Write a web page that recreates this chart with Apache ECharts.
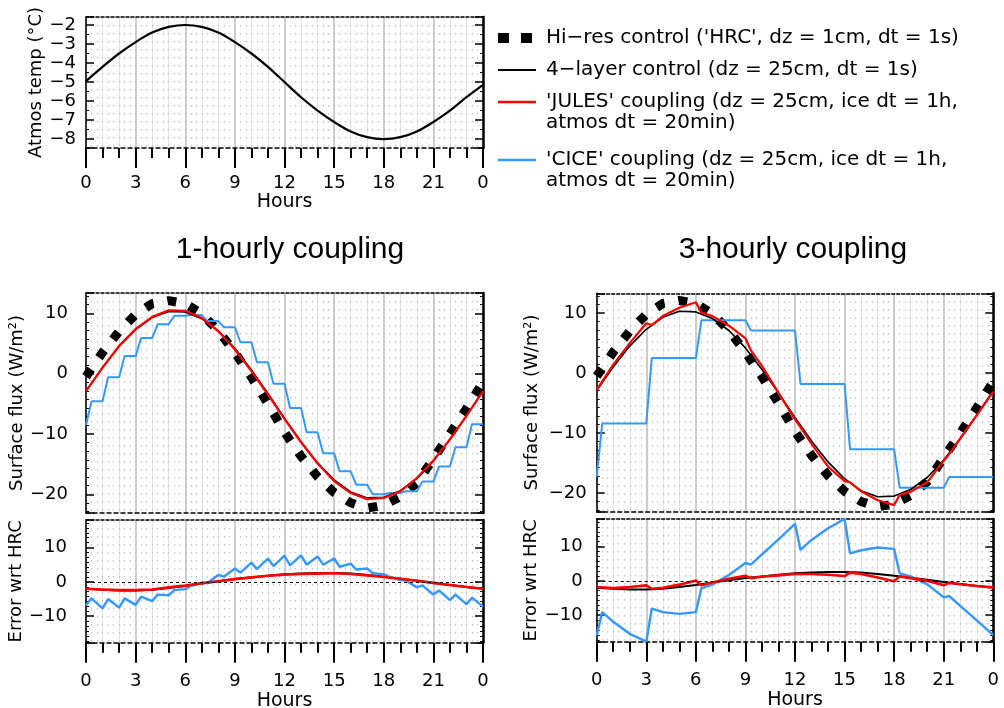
<!DOCTYPE html>
<html><head><meta charset="utf-8">
<script src="https://cdn.jsdelivr.net/npm/echarts@6/dist/echarts.min.js"></script>
<style>html,body{margin:0;padding:0;background:#fff}#c{width:1004px;height:708px}</style>
</head><body><div id="c"></div><script>
// ---------------- data ----------------
const hours = [0,1,2,3,4,5,6,7,8,9,10,11,12,13,14,15,16,17,18,19,20,21,22,23,24];
const atmosTemp = [-4.95,-4.2,-3.5,-2.9,-2.4,-2.1,-2.0,-2.1,-2.4,-2.9,-3.5,-4.2,-5.0,-5.8,-6.5,-7.1,-7.6,-7.9,-8.0,-7.9,-7.6,-7.1,-6.5,-5.8,-5.15];

const hrcFlux = [-0.5,3.5,7.0,9.8,11.6,12.1,11.6,9.9,7.1,3.5,-0.6,-5.0,-9.7,-13.7,-17.1,-19.7,-21.4,-22.3,-21.8,-20.4,-18.1,-14.1,-10.0,-5.8,-1.4];
const ctlFlux = [-2.9,1.0,4.5,7.3,9.3,10.3,10.2,9.1,7.1,4.2,0.6,-3.3,-7.4,-11.3,-14.8,-17.6,-19.6,-20.6,-20.5,-19.4,-17.4,-14.5,-10.9,-7.0,-2.9];
const julesFlux1h = [-2.9,1.0,4.6,7.4,9.4,10.5,10.4,9.2,7.0,4.0,0.4,-3.5,-7.5,-11.4,-14.9,-17.8,-19.8,-20.8,-20.6,-19.5,-17.3,-14.4,-10.9,-7.0,-2.9];
const ciceFlux1hStart = -8.5;
const ciceFlux1h = [-4.6,-0.6,2.9,5.9,8.2,9.6,9.7,8.7,7.7,5.2,1.9,-1.7,-5.7,-9.7,-13.2,-16.2,-18.4,-20.0,-19.8,-19.5,-17.9,-15.4,-12.2,-8.4];

const ctlErr = [-2.0,-2.3,-2.5,-2.5,-2.3,-1.8,-1.2,-0.5,0.2,0.8,1.3,1.8,2.2,2.4,2.6,2.6,2.4,2.0,1.5,0.9,0.3,-0.3,-0.9,-1.5,-2.0];
const julesErr1h = [-2.0,-2.2,-2.4,-2.4,-2.2,-1.6,-1.1,-0.4,0.2,0.8,1.3,1.8,2.1,2.3,2.4,2.5,2.3,1.9,1.4,0.9,0.3,-0.3,-0.9,-1.5,-2.0];
const ciceErr1hAtHour = [-6.8,-7.7,-7.5,-6.7,-5.6,-3.9,-2.1,-0.2,2.0,3.9,5.6,6.8,7.6,7.7,7.4,6.8,5.3,3.9,2.2,0.5,-1.6,-3.7,-5.3,-6.5,-7.2];
const ciceErr1hAfterStep = [-4.8,-5.0,-4.8,-4.3,-3.7,-2.4,-1.2,-0.3,1.5,2.7,3.7,4.6,4.8,5.0,5.0,4.4,3.6,2.5,1.5,0.4,-1.0,-2.5,-3.7,-4.6];

const jules3hTimes = [0,1,2,3,3.33,4,5,6,6.33,7,8,9,9.33,10,11,12,12.33,13,14,15,15.33,16,17,18,18.33,19,20,21,21.33,22,23,24];
const julesFlux3h = [-2.8,1.4,5.0,8.3,8.0,9.5,10.9,11.8,10.1,9.5,7.9,5.8,3.8,1.2,-3.3,-7.7,-9.0,-11.8,-15.6,-18.0,-18.2,-19.7,-21.2,-22.0,-20.3,-19.8,-18.2,-14.6,-13.5,-10.9,-7.0,-3.1];
const julesErr3h = [-1.8,-2.1,-1.8,-1.3,-2.3,-2.0,-1.1,0.1,-1.3,-0.5,0.6,1.5,0.8,1.2,1.6,2.0,2.0,2.0,1.8,1.4,2.4,2.0,1.0,-0.1,1.3,0.8,0.0,-1.3,-0.6,-1.0,-1.5,-1.9];
const ciceFlux3hStart = -17.3;
const ciceFlux3h = [-8.4,2.5,8.8,7.1,-1.8,-12.7,-19.1,-17.3];
const ciceErr3hTimes = [0,0.33,1,2,3,3.33,4,5,6,6.33,7,8,9,9.33,10,11,12,12.33,13,14,15,15.33,16,17,18,18.33,19,20,21,21.33,22,23,24];
const ciceErr3h = [-15.9,-9.1,-11.9,-15.4,-17.7,-8.1,-9.1,-9.6,-9.1,-2.2,-1.1,1.7,5.2,4.7,7.7,12.1,16.6,9.0,11.9,15.3,18.0,8.0,8.9,9.7,9.3,2.2,1.3,-1.0,-4.8,-4.4,-7.3,-11.5,-15.8];

const hourTickLabels = ['0','3','6','9','12','15','18','21','0'];

const N_HRC = "Hi\u2212res control ('HRC', dz = 1cm, dt = 1s)";
const N_CTL = "4\u2212layer control (dz = 25cm, dt = 1s)";
const N_JUL = "'JULES' coupling (dz = 25cm, ice dt = 1h,";
const N_CIC = "'CICE' coupling (dz = 25cm, ice dt = 1h,";

// ---------------- helpers ----------------
const FONT = 'DejaVu Sans';
const BLUE = '#3399ff', RED = '#ff0000';
const pts = (xs, ys) => xs.map((x, i) => [x, ys[i]]);
function steps(start, levels, period) {
  const out = [[0, start]];
  levels.forEach((v, k) => { out.push([k * period + 1 / 3, v]); out.push([(k + 1) * period, v]); });
  return out;
}
function zig(atHour, after) {
  const out = [];
  atHour.forEach((v, k) => { out.push([k, v]); if (k < after.length) out.push([k + 1 / 3, after[k]]); });
  return out;
}
const minus = v => String(v).replace('-', '\u2212');
const txt = (s) => ({ fontSize: s, fontFamily: FONT, color: '#000' });

function xAxes(g, labels, margin, nameGap) {
  return [{
    type: 'value', gridIndex: g, min: 0, max: 24, interval: 3, position: 'bottom',
    axisLine: { show: true, onZero: false, lineStyle: { color: '#000', width: 1.5, type: [4, 3] } },
    axisTick: { show: labels, inside: false, length: 20, lineStyle: { color: '#000', width: 2 } },
    minorTick: { show: labels, splitNumber: 3, length: 10, lineStyle: { color: '#000', width: 2 } },
    splitLine: { show: true, lineStyle: { color: '#bcbcbc', width: 1.5 } },
    minorSplitLine: { show: true, lineStyle: { color: '#e4e4e4', width: 1 } },
    axisLabel: { show: labels, margin: margin, ...txt(18), formatter: v => hourTickLabels[Math.round(v / 3)] },
    name: labels ? 'Hours' : '', nameLocation: 'middle', nameGap: nameGap, nameTextStyle: txt(19)
  }, {
    type: 'value', gridIndex: g, min: 0, max: 24, interval: 1 / 3, position: 'top',
    axisLine: { show: true, onZero: false, lineStyle: { color: '#000', width: 1.5, type: [3, 2] } },
    axisTick: { show: false }, axisLabel: { show: false },
    splitLine: { show: true, lineStyle: { color: '#c4c4c4', width: 1.3, type: [1.5, 6.5] } }
  }];
}
function yAxes(g, min, max, split, minorSplit, margin, name, nameGap) {
  return [{
    type: 'value', gridIndex: g, position: 'left', min: min, max: max, splitNumber: split,
    axisLine: { show: true, onZero: false, lineStyle: { color: '#000', width: 1.5 } },
    axisTick: { show: true, inside: true, length: 8, lineStyle: { color: '#000', width: 1.5 } },
    minorTick: { show: true, splitNumber: minorSplit, length: 3, lineStyle: { color: '#000', width: 1 } },
    splitLine: { show: false },
    axisLabel: { margin: margin, ...txt(18), formatter: minus, showMinLabel: false, showMaxLabel: false },
    name: name, nameLocation: 'middle', nameGap: nameGap, nameTextStyle: txt(18)
  }, {
    type: 'value', gridIndex: g, position: 'right', min: min, max: max, splitNumber: split,
    axisLine: { show: true, onZero: false, lineStyle: { color: '#000', width: 2.5 } },
    axisTick: { show: true, inside: true, length: 8, lineStyle: { color: '#000', width: 1.5 } },
    minorTick: { show: true, splitNumber: minorSplit, length: 3, lineStyle: { color: '#000', width: 1 } },
    splitLine: { show: false }, axisLabel: { show: false }
  }];
}
const line = (name, g, data, color, width, extra) => Object.assign({
  type: 'line', name: name, xAxisIndex: g * 2, yAxisIndex: g * 2, data: data,
  showSymbol: false, symbol: 'none', silent: true, animation: false,
  lineStyle: { color: color, width: width }, itemStyle: { color: color }
}, extra || {});
const hrcStyle = { lineStyle: { color: '#000', width: 9, type: [9, 14], cap: 'butt' } };
const zeroLine = { markLine: { silent: true, symbol: 'none', label: { show: false },
  lineStyle: { color: '#000', width: 1, type: [3, 3] }, data: [{ yAxis: 0 }] } };

const grids = [
  { left: 86, top: 17, width: 397, height: 131 },
  { left: 86, top: 293, width: 397, height: 220 },
  { left: 86, top: 520, width: 397, height: 122.7 },
  { left: 596.7, top: 293.3, width: 396.6, height: 218.4 },
  { left: 596.7, top: 519, width: 396.6, height: 122.7 }
].map(g => Object.assign({ outerBoundsMode: 'none', containLabel: false }, g));

const xAxis = [].concat(
  xAxes(0, true, 26, 35), xAxes(1, false, 0, 0), xAxes(2, true, 30, 45),
  xAxes(3, false, 0, 0), xAxes(4, true, 30, 45));
const yAxis = [].concat(
  yAxes(0, -8.47, -1.58, 7, 2, 10, 'Atmos temp (\u00B0C)', 41),
  yAxes(1, -23.1, 13.36, 4, 7, 18, 'Surface flux (W/m\u00B2)', 44),
  yAxes(2, -17.7, 18, 4, 7, 19, 'Error wrt HRC', 47),
  yAxes(3, -23.1, 13.3, 4, 7, 10, 'Surface flux (W/m\u00B2)', 55),
  yAxes(4, -17.7, 18, 4, 7, 14, 'Error wrt HRC', 55));

const series = [
  line('atmos', 0, pts(hours, atmosTemp), '#000', 2.2, { smooth: 0.3 }),
  // 1-hourly
  line(N_HRC, 1, pts(hours, hrcFlux), '#000', 9, hrcStyle),
  line(N_CIC, 1, steps(ciceFlux1hStart, ciceFlux1h, 1), BLUE, 2),
  line(N_CTL, 1, pts(hours, ctlFlux), '#000', 1.6),
  line(N_JUL, 1, pts(hours, julesFlux1h), RED, 2.2),
  line(N_CTL, 2, pts(hours, ctlErr), '#000', 2, zeroLine),
  line(N_CIC, 2, zig(ciceErr1hAtHour, ciceErr1hAfterStep), BLUE, 2.4),
  line(N_JUL, 2, pts(hours, julesErr1h), RED, 2.6),
  // 3-hourly
  line(N_HRC, 3, pts(hours, hrcFlux), '#000', 9, hrcStyle),
  line(N_CIC, 3, steps(ciceFlux3hStart, ciceFlux3h, 3), BLUE, 2),
  line(N_CTL, 3, pts(hours, ctlFlux), '#000', 1.6),
  line(N_JUL, 3, pts(jules3hTimes, julesFlux3h), RED, 2.2),
  line(N_CTL, 4, pts(hours, ctlErr), '#000', 2, zeroLine),
  line(N_CIC, 4, pts(ciceErr3hTimes, ciceErr3h), BLUE, 2.4),
  line(N_JUL, 4, pts(jules3hTimes, julesErr3h), RED, 2.6)
];

const legItem = (name, top, icon, w, h, color, pad) => ({
  show: true, selectedMode: false, orient: 'vertical', left: 498, top: top, padding: 0,
  itemWidth: w, itemHeight: h,
  textStyle: Object.assign(txt(20), { padding: [0, 0, 0, pad] }),
  data: [{ name: name, icon: icon, itemStyle: { color: color } }]
});
const legend = [
  legItem(N_HRC, 28, 'path://M0,0h11v10h-11z M23,0h11v10h-11z', 34, 10, '#000', 9),
  legItem(N_CTL, 60, 'rect', 38, 2, '#000', 5),
  legItem(N_JUL, 92, 'rect', 38, 2.5, RED, 5),
  legItem(N_CIC, 150, 'rect', 38, 2.5, BLUE, 5)
];

const graphic = [
  { type: 'text', x: 546, y: 123, style: { text: 'atmos dt = 20min)', font: '20px "DejaVu Sans"', fill: '#000', verticalAlign: 'middle' } },
  { type: 'text', x: 546, y: 181, style: { text: 'atmos dt = 20min)', font: '20px "DejaVu Sans"', fill: '#000', verticalAlign: 'middle' } },
  { type: 'text', x: 290, y: 250, style: { text: '1-hourly coupling', font: '30px "Liberation Sans"', fill: '#000', align: 'center', verticalAlign: 'middle' } },
  { type: 'text', x: 793, y: 250, style: { text: '3-hourly coupling', font: '30px "Liberation Sans"', fill: '#000', align: 'center', verticalAlign: 'middle' } }
];

const chart = echarts.init(document.getElementById('c'), null, { renderer: 'canvas' });
chart.setOption({
  animation: false, backgroundColor: '#fff',
  grid: grids, xAxis: xAxis, yAxis: yAxis, series: series, legend: legend, graphic: graphic
});
</script></body></html>
